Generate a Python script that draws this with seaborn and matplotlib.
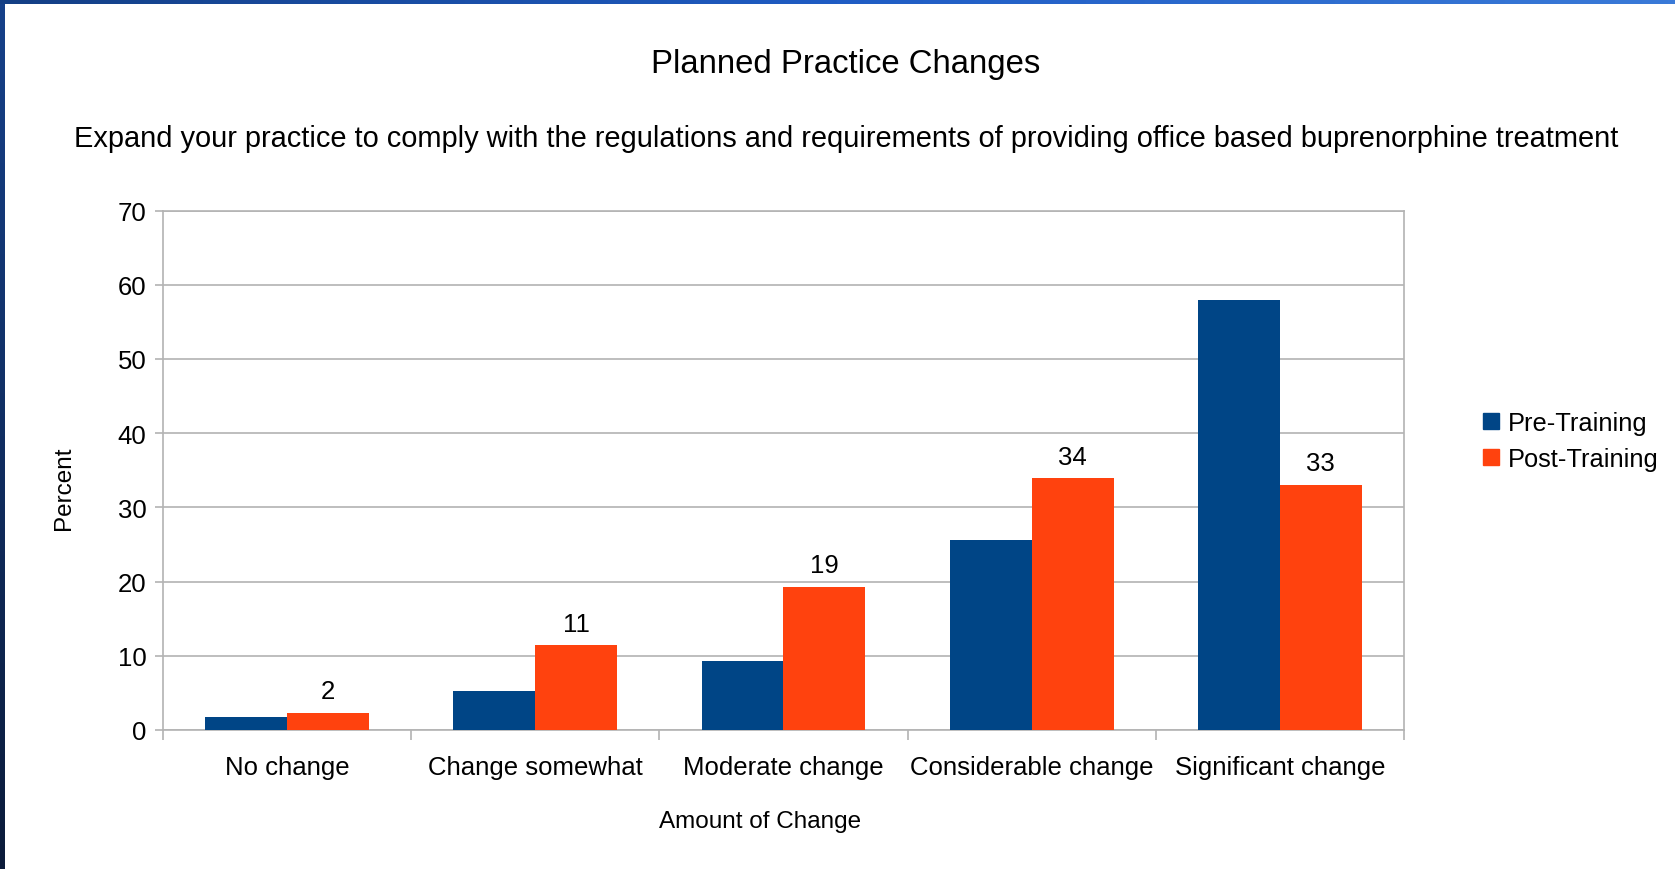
import numpy as np
import pandas as pd
import matplotlib
matplotlib.use("Agg")
import matplotlib.pyplot as plt
from matplotlib.colors import LinearSegmentedColormap
from matplotlib.lines import Line2D
import seaborn as sns

categories = ["No change", "Change somewhat", "Moderate change",
              "Considerable change", "Significant change"]
pre_training = [1.8, 5.3, 9.3, 25.6, 58.0]
post_training = [2.3, 11.4, 19.3, 33.9, 33.0]
series = ["Pre-Training", "Post-Training"]
colors = ["#004586", "#ff420e"]
y_ticks = [0, 10, 20, 30, 40, 50, 60, 70]

df = pd.DataFrame({
    "Category": categories * 2,
    "Series": [series[0]] * 5 + [series[1]] * 5,
    "Percent": pre_training + post_training,
})

sns.set_theme(style="white")
plt.rcParams["font.family"] = ["Liberation Sans", "DejaVu Sans"]
plt.rcParams["text.color"] = "black"
GRID = "#b3b3b3"

fig = plt.figure(figsize=(16.75, 8.7), dpi=100)
ax = fig.add_axes([0.0973, 0.1598, 0.7409, 0.597])

sns.barplot(data=df, x="Category", y="Percent", hue="Series",
            order=categories, hue_order=series, palette=colors,
            width=0.66, saturation=1, linewidth=0, ax=ax, legend=False,
            zorder=3)

ax.bar_label(ax.containers[1], fmt="%.0f", padding=7, fontsize=18.5,
             color="black")

ax.set_xlim(-0.5, len(categories) - 0.5)
ax.set_ylim(0, 70)
ax.set_yticks(y_ticks)
ax.yaxis.grid(True, color=GRID, linewidth=1.2, zorder=0)
ax.set_axisbelow(True)
for sp in ax.spines.values():
    sp.set_color(GRID)
    sp.set_linewidth(1.2)
ax.tick_params(axis="y", which="major", left=True, length=6, width=1.2,
               color=GRID, pad=6, labelsize=18.5, labelcolor="black")
ax.set_xticks(np.arange(len(categories)))
ax.set_xticklabels(categories)
ax.set_xticks(np.arange(-0.5, len(categories)), minor=True)
ax.tick_params(axis="x", which="major", bottom=False, pad=12, labelsize=18.5,
               labelcolor="black")
ax.tick_params(axis="x", which="minor", bottom=True, length=7, width=1.2,
               color=GRID)
ax.set_xlabel("")
ax.set_ylabel("")

fig.text(0.505, 0.926, "Planned Practice Changes", ha="center", va="center",
         fontsize=23.7)
fig.text(0.505, 0.8398,
         "Expand your practice to comply with the regulations and requirements "
         "of providing office based buprenorphine treatment",
         ha="center", va="center", fontsize=20.9)
fig.text(0.4537, 0.0552, "Amount of Change", ha="center", va="center",
         fontsize=17.5)
fig.text(0.0382, 0.439, "Percent", ha="center", va="center", rotation=90,
         fontsize=17.5)

handles = [Line2D([], [], marker="s", linestyle="", markersize=11.5,
                  markerfacecolor=c, markeredgecolor=c) for c in colors]
fig.legend(handles, series, loc="center left",
           bbox_to_anchor=(0.884, 0.492), frameon=False, fontsize=18.3,
           handlelength=0.8, handletextpad=0.25, labelspacing=0.45,
           borderpad=0, borderaxespad=0)

# window frame: gradient strip on top, dark strip on the left
top = fig.add_axes([0, 1 - 5 / 870, 1, 5 / 870])
top.imshow(np.linspace(0, 1, 256).reshape(1, -1), aspect="auto",
           cmap=LinearSegmentedColormap.from_list("t", ["#143f85", "#1f5cc4", "#3a7ad8"]))
top.axis("off")
left = fig.add_axes([0, 0, 5 / 1675, 1 - 5 / 870])
left.imshow(np.linspace(0, 1, 256).reshape(-1, 1), aspect="auto",
            cmap=LinearSegmentedColormap.from_list("l", ["#16418a", "#0b1b3a"]))
left.axis("off")

fig.savefig("out.png", dpi=100)
